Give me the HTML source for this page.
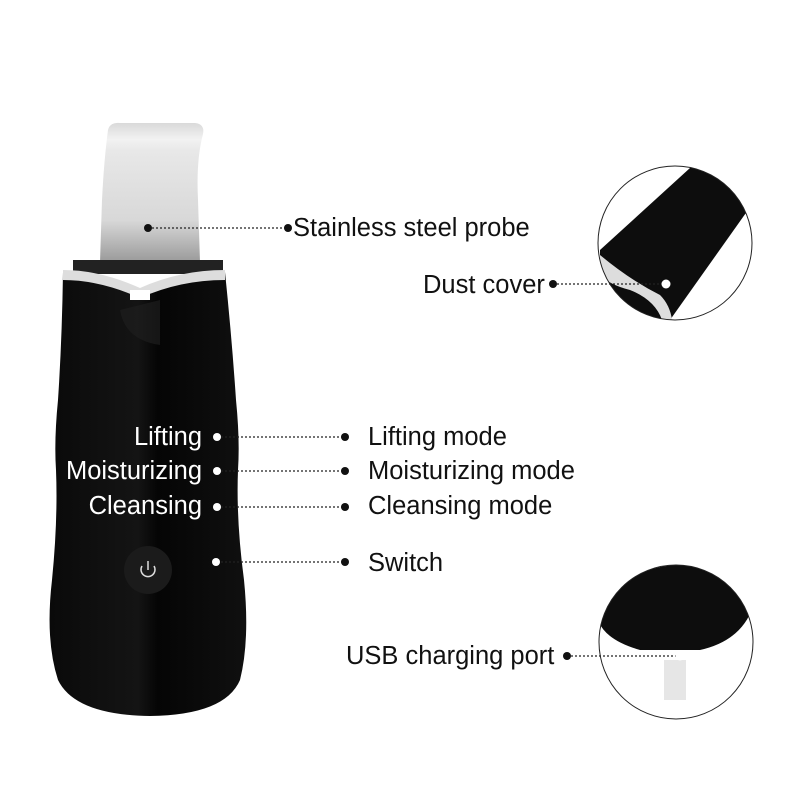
<!DOCTYPE html>
<html><head><style>
html,body{margin:0;padding:0;background:#fff;}
svg{display:block}
text{font-family:"Liberation Sans",Arial,sans-serif;font-size:25.5px;}
</style></head><body>
<svg width="800" height="800" viewBox="0 0 800 800">
<defs>
<linearGradient id="pr" x1="0" y1="0" x2="0" y2="1">
<stop offset="0" stop-color="#d9d9d9"/><stop offset="0.12" stop-color="#f2f2f2"/><stop offset="0.2" stop-color="#e8e8e8"/><stop offset="0.7" stop-color="#d8d8d8"/><stop offset="1" stop-color="#9a9a9a"/>
</linearGradient>
<linearGradient id="bd" x1="0" y1="0" x2="1" y2="0">
<stop offset="0" stop-color="#0a0a0a"/><stop offset="0.45" stop-color="#141414"/><stop offset="0.55" stop-color="#050505"/><stop offset="1" stop-color="#101010"/>
</linearGradient>
<clipPath id="c1"><circle cx="675" cy="243" r="77"/></clipPath>
<clipPath id="c2"><circle cx="676" cy="642" r="77"/></clipPath>
</defs>
<path d="M108 130 Q110 122 120 123 L195 123 Q205 124 203 134 Q196 160 198 200 L200 262 L100 262 L102 200 Q104 160 108 130 Z" fill="url(#pr)"/>
<rect x="73" y="260" width="150" height="14" fill="#222"/>
<path d="M63 272 Q100 272 140 290 Q180 272 225 272 Q232 340 236 400 Q240 440 238 470 Q236 520 244 580 Q250 640 240 680 Q225 715 150 716 Q75 715 58 680 Q45 640 52 580 Q58 520 56 470 Q54 440 58 400 Q62 340 63 272 Z" fill="url(#bd)"/>
<path d="M63 270 Q100 270 140 288 Q180 270 225 270 L225 280 Q180 280 140 298 Q100 280 63 280 Z" fill="#ddd"/>
<path d="M130 290 L150 290 L150 300 L130 300 Z" fill="#fff"/>
<path d="M120 310 Q125 340 160 345 L160 300 Z" fill="#1e1e1e" opacity="0.7"/>
<circle cx="148" cy="570" r="24" fill="#1b1b1b"/>
<path d="M142 566 A7 7 0 1 0 154 566" fill="none" stroke="#ddd" stroke-width="1.5"/>
<line x1="148" y1="561" x2="148" y2="570" stroke="#ddd" stroke-width="1.5"/>
<g clip-path="url(#c1)">
<path d="M600 250 L690 168 Q740 160 748 210 L670 320 L600 320 Z" fill="#0d0d0d"/>
<path d="M600 255 Q630 280 660 295 Q670 305 672 320 L662 320 Q655 300 630 290 Q610 285 600 275 Z" fill="#ddd"/>
</g>
<circle cx="675" cy="243" r="77" fill="none" stroke="#222" stroke-width="1"/>
<g clip-path="url(#c2)">
<path d="M598 600 Q640 560 700 565 Q740 575 755 600 Q745 640 700 650 L640 650 Q605 640 598 620 Z" fill="#0d0d0d"/>
<rect x="664" y="660" width="22" height="40" fill="#e6e6e6"/>
</g>
<circle cx="676" cy="642" r="77" fill="none" stroke="#222" stroke-width="1"/>
<g stroke="#222" stroke-width="1.3" stroke-dasharray="2,2" fill="none">
<line x1="148" y1="228" x2="288" y2="228"/>
<line x1="553" y1="284" x2="666" y2="284"/>
<line x1="217" y1="437" x2="345" y2="437"/>
<line x1="217" y1="471" x2="345" y2="471"/>
<line x1="217" y1="507" x2="345" y2="507"/>
<line x1="217" y1="562" x2="345" y2="562"/>
<line x1="567" y1="656" x2="680" y2="656"/>
</g>
<g fill="#111">
<circle cx="148" cy="228" r="4"/><circle cx="288" cy="228" r="4"/>
<circle cx="553" cy="284" r="4"/>
<circle cx="345" cy="437" r="4"/><circle cx="345" cy="471" r="4"/><circle cx="345" cy="507" r="4"/><circle cx="345" cy="562" r="4"/>
<circle cx="567" cy="656" r="4"/>
</g>
<g fill="#fff">
<circle cx="666" cy="284" r="4.5"/><circle cx="680" cy="656" r="4.5"/>
<circle cx="217" cy="437" r="4"/><circle cx="217" cy="471" r="4"/><circle cx="217" cy="507" r="4"/><circle cx="216" cy="562" r="4"/>
</g>
<g fill="#111">
<text x="293" y="236">Stainless steel probe</text>
<text x="423" y="293">Dust cover</text>
<text x="368" y="445">Lifting mode</text>
<text x="368" y="479">Moisturizing mode</text>
<text x="368" y="514">Cleansing mode</text>
<text x="368" y="571">Switch</text>
<text x="346" y="664">USB charging port</text>
</g>
<g fill="#fff" text-anchor="end">
<text x="202" y="445">Lifting</text>
<text x="202" y="479">Moisturizing</text>
<text x="202" y="514">Cleansing</text>
</g>
</svg>
</body></html>
